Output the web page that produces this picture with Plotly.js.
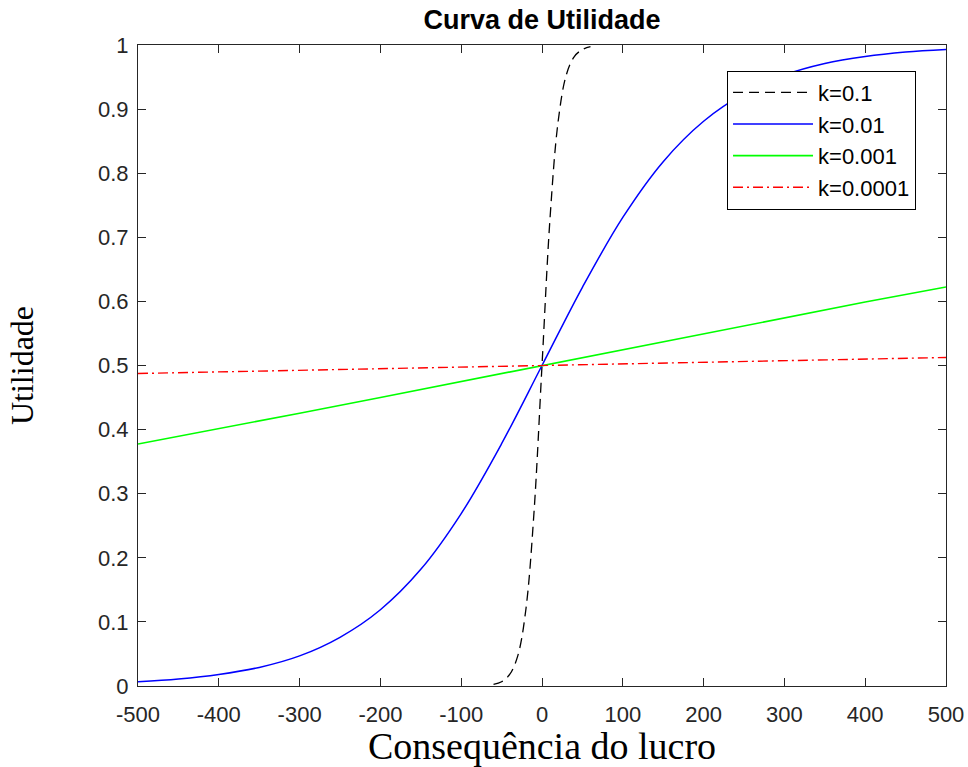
<!DOCTYPE html>
<html><head><meta charset="utf-8">
<script src="https://cdn.plot.ly/plotly-3.0.1.min.js"></script>
<style>body{margin:0;background:#fff}#chart{width:968px;height:767px}</style>
</head><body><div id="chart"></div>
<script>
// Values
const xSteep = [-60, -50, -40, -30, -20, -10, 0, 10, 20, 30, 40, 50, 60];
const k01 = [0.0025, 0.0067, 0.018, 0.047, 0.119, 0.269, 0.5, 0.731, 0.881, 0.953, 0.982, 0.993, 0.9975];

const xGrid = [-500, -450, -400, -350, -300, -250, -200, -150, -100, -50, 0, 50, 100, 150, 200, 250, 300, 350, 400, 450, 500];
const k001 = [0.0067, 0.011, 0.018, 0.029, 0.047, 0.076, 0.119, 0.182, 0.269, 0.378, 0.5, 0.622, 0.731, 0.818, 0.881, 0.924, 0.953, 0.971, 0.982, 0.989, 0.993];

const xLin = [-500, -400, -300, -200, -100, 0, 100, 200, 300, 400, 500];
const k0001 = [0.3775, 0.401, 0.4256, 0.4502, 0.475, 0.5, 0.525, 0.5498, 0.5744, 0.599, 0.6225];
const k00001 = [0.4875, 0.49, 0.4925, 0.495, 0.4975, 0.5, 0.5025, 0.505, 0.5075, 0.51, 0.5125];

const names = ['k=0.1', 'k=0.01', 'k=0.001', 'k=0.0001'];
const xTicks = [-500, -400, -300, -200, -100, 0, 100, 200, 300, 400, 500];
const yTicks = [0, 0.1, 0.2, 0.3, 0.4, 0.5, 0.6, 0.7, 0.8, 0.9, 1];
const yTickText = ['0', '0.1', '0.2', '0.3', '0.4', '0.5', '0.6', '0.7', '0.8', '0.9', '1'];

const traces = [
  {x: xSteep, y: k01, name: names[0], legendgroup: 'a', mode: 'lines', line: {color: '#000000', width: 1.3, dash: '10px,6px', shape: 'spline'}},
  {x: xGrid, y: k001, name: names[1], legendgroup: 'b', mode: 'lines', line: {color: '#0000ff', width: 1.5, shape: 'spline'}},
  {x: xLin, y: k0001, name: names[2], legendgroup: 'c', mode: 'lines', line: {color: '#00ff00', width: 1.6}},
  {x: xLin, y: k00001, name: names[3], legendgroup: 'd', mode: 'lines', line: {color: '#ff0000', width: 1.4, dash: '10px,4px,2px,4px'}}
];

const axisCommon = {
  showgrid: false, zeroline: false, showline: true, linecolor: '#262626', linewidth: 1,
  mirror: 'ticks', ticks: 'inside', ticklen: 8, tickcolor: '#262626', automargin: false,
  tickfont: {family: 'Liberation Sans, Arial, sans-serif', size: 22, color: '#262626'}
};

const layout = {
  width: 968, height: 767,
  margin: {l: 138, r: 22, t: 45, b: 81},
  paper_bgcolor: '#ffffff', plot_bgcolor: '#ffffff',
  title: {text: '<b>Curva de Utilidade</b>', xref: 'paper', x: 0.5, xanchor: 'center', yref: 'container', y: 0.974, yanchor: 'middle',
          font: {family: 'Liberation Sans, Arial, sans-serif', size: 27, color: '#000000'}},
  xaxis: Object.assign({}, axisCommon, {
    range: [-500, 500], tickvals: xTicks, ticktext: xTicks.map(String), ticklabelstandoff: 9,
    title: {text: 'Consequência do lucro', standoff: 5,
            font: {family: 'Liberation Serif, Times New Roman, serif', size: 38, color: '#000000'}}
  }),
  yaxis: Object.assign({}, axisCommon, {
    range: [0, 1], tickvals: yTicks, ticktext: yTickText, ticklabelstandoff: 4,
    title: {text: 'Utilidade', standoff: 54,
            font: {family: 'Liberation Serif, Times New Roman, serif', size: 32, color: '#000000'}}
  }),
  showlegend: true,
  legend: {x: 0.729, xanchor: 'left', y: 0.96, yanchor: 'top', bgcolor: '#ffffff',
           bordercolor: '#000000', borderwidth: 1, itemwidth: 80,
           font: {family: 'Liberation Sans, Arial, sans-serif', size: 22, color: '#000000'},
           tracegroupgap: 0}
};

Plotly.newPlot('chart', traces, layout, {displayModeBar: false, staticPlot: true});
</script>
</body></html>
